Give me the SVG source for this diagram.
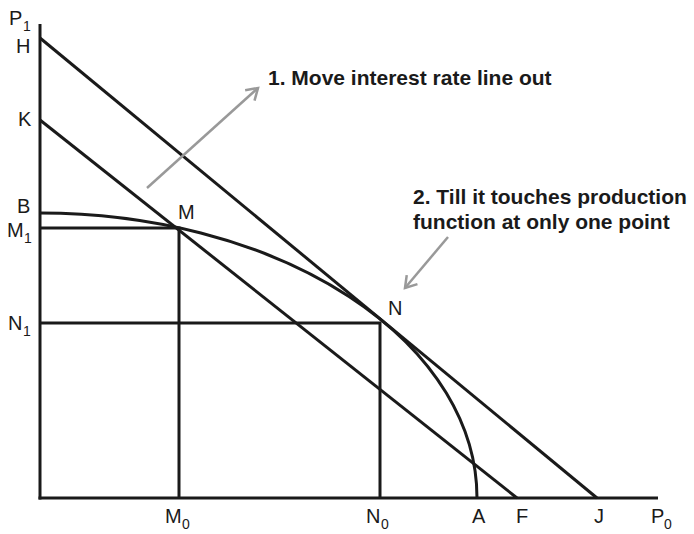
<svg xmlns="http://www.w3.org/2000/svg" width="694" height="534" viewBox="0 0 694 534">
<style>
.ln{stroke:#1a1a1a;stroke-width:3;fill:none;stroke-linecap:butt}
.ar{stroke:#999;stroke-width:2.5;fill:none}
.lb{font-family:"Liberation Sans",Arial,sans-serif;font-size:20px;fill:#1a1a1a}
.sb{font-family:"Liberation Sans",Arial,sans-serif;font-size:14px;fill:#1a1a1a}
.an{font-family:"Liberation Sans",Arial,sans-serif;font-size:21px;font-weight:bold;fill:#1a1a1a}
</style>
<defs>
<marker id="chev" markerUnits="userSpaceOnUse" markerWidth="20" markerHeight="20" refX="12" refY="8" orient="auto">
<path d="M1,1 L12,8 L1,15" stroke="#999" stroke-width="2.5" fill="none"/>
</marker>
</defs>
<g id="axes">
<line class="ln" x1="40" y1="24" x2="40" y2="499.5"/>
<line class="ln" x1="38.5" y1="498" x2="658" y2="498"/>
</g>
<g id="connectors">
<line id="lineHJ" class="ln" x1="40" y1="38" x2="597" y2="498"/>
<line id="lineKF" class="ln" x1="40" y1="120" x2="517" y2="498"/>
<path id="curveBA" class="ln" d="M40,213 A437,285 0 0 1 477,498"/>
<polyline id="guideM" class="ln" points="40,228 179,228 179,498"/>
<polyline id="guideN" class="ln" points="40,323 380,323 380,498"/>
<line id="arrow1" class="ar" x1="147" y1="188" x2="258" y2="88" marker-end="url(#chev)"/>
<line id="arrow2" class="ar" x1="448" y1="237" x2="405" y2="288" marker-end="url(#chev)"/>
</g>
<g id="labels">
<text class="lb" x="9" y="25">P</text><text class="sb" x="23" y="31">1</text>
<text class="lb" x="16" y="53">H</text>
<text class="lb" x="18" y="126">K</text>
<text class="lb" x="17" y="213">B</text>
<text class="lb" x="7" y="237">M</text><text class="sb" x="24" y="243">1</text>
<text class="lb" x="8" y="330">N</text><text class="sb" x="23" y="336">1</text>
<text class="lb" x="178" y="219">M</text>
<text class="lb" x="388" y="315">N</text>
<text class="lb" x="165" y="523">M</text><text class="sb" x="182" y="529">0</text>
<text class="lb" x="366" y="523">N</text><text class="sb" x="381" y="529">0</text>
<text class="lb" x="472" y="523">A</text>
<text class="lb" x="516" y="523">F</text>
<text class="lb" x="594" y="523">J</text>
<text class="lb" x="651" y="523">P</text><text class="sb" x="664" y="529">0</text>
</g>
<g id="annotations">
<text class="an" x="268" y="85">1. Move interest rate line out</text>
<text class="an" x="413" y="204">2. Till it touches production</text>
<text class="an" x="413" y="229">function at only one point</text>
</g>
</svg>
